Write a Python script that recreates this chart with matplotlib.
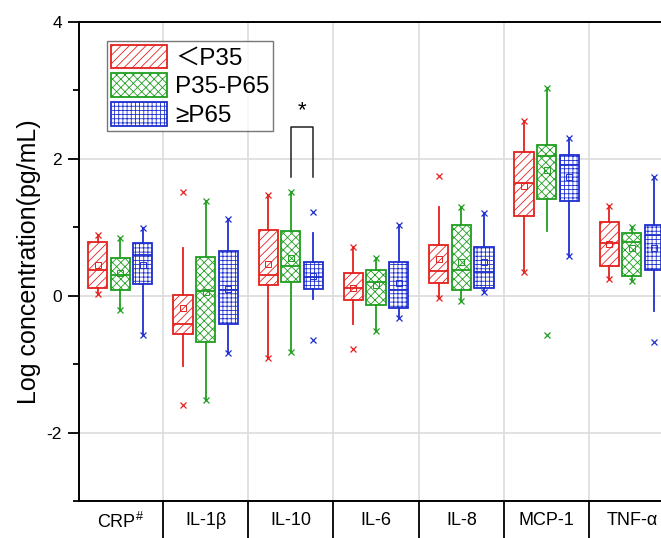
import matplotlib
matplotlib.use("Agg")
import matplotlib.pyplot as plt
from matplotlib.patches import Patch

plt.rcParams['font.family'] = ['Liberation Sans', 'Noto Sans CJK SC', 'DejaVu Sans']
plt.rcParams['mathtext.fontset'] = 'custom'
plt.rcParams['mathtext.rm'] = 'Liberation Sans'
plt.rcParams['mathtext.it'] = 'Liberation Sans'
plt.rcParams['hatch.linewidth'] = 0.6
plt.rcParams['axes.unicode_minus'] = False

categories = ['CRP$^{\\#}$', 'IL-1β', 'IL-10', 'IL-6', 'IL-8', 'MCP-1', 'TNF-α']
groups = ['＜P35', 'P35-P65', '≥P65']

# stats per group: whislo, q1, med, q3, whishi, mean, min, max
red_whislo = [0.03, -1.02, -0.91, -0.41, -0.03, 0.35, 0.25]
red_q1     = [0.12, -0.56, 0.15, -0.06, 0.18, 1.17, 0.43]
red_med    = [0.38, -0.41, 0.30, 0.11, 0.36, 1.64, 0.77]
red_q3     = [0.78, 0.01, 0.96, 0.33, 0.74, 2.10, 1.08]
red_whishi = [0.88, 0.70, 1.47, 0.71, 1.29, 2.56, 1.31]
red_mean   = [0.45, -0.18, 0.47, 0.12, 0.53, 1.60, 0.75]
red_min    = [0.03, -1.60, -0.91, -0.78, -0.03, 0.35, 0.25]
red_max    = [0.88, 1.51, 1.47, 0.71, 1.75, 2.56, 1.31]

green_whislo = [-0.21, -1.53, -0.82, -0.52, -0.07, 0.95, 0.21]
green_q1     = [0.08, -0.68, 0.20, -0.14, 0.09, 1.41, 0.29]
green_med    = [0.31, 0.07, 0.44, 0.20, 0.37, 2.04, 0.79]
green_q3     = [0.55, 0.57, 0.95, 0.38, 1.03, 2.20, 0.91]
green_whishi = [0.85, 1.38, 1.52, 0.55, 1.30, 3.03, 1.01]
green_mean   = [0.33, 0.05, 0.55, 0.15, 0.50, 1.84, 0.70]
green_min    = [-0.21, -1.53, -0.82, -0.52, -0.07, -0.58, 0.21]
green_max    = [0.85, 1.38, 1.52, 0.55, 1.30, 3.03, 1.01]

blue_whislo = [-0.57, -0.84, -0.05, -0.32, 0.06, 0.58, -0.23]
blue_q1     = [0.17, -0.42, 0.10, -0.18, 0.12, 1.38, 0.38]
blue_med    = [0.60, 0.09, 0.27, 0.09, 0.35, 1.91, 0.89]
blue_q3     = [0.77, 0.65, 0.49, 0.49, 0.71, 2.05, 1.03]
blue_whishi = [0.99, 1.12, 0.92, 1.03, 1.21, 2.30, 1.73]
blue_mean   = [0.45, 0.10, 0.29, 0.19, 0.50, 1.74, 0.70]
blue_min    = [-0.57, -0.84, -0.64, -0.32, 0.06, 0.58, -0.68]
blue_max    = [0.99, 1.12, 1.22, 1.03, 1.21, 2.30, 1.73]

sig_pair = (2, 1, 2)   # category index, group a, group b
sig_label = '*'

colors = ['#e3211f', '#1f9e1f', '#1f2fcf']
hatches = ['////', 'xxxx', '++++']
offsets = [-0.265, 0.0, 0.265]
box_w = 0.225

data = [
    (red_whislo, red_q1, red_med, red_q3, red_whishi, red_mean, red_min, red_max),
    (green_whislo, green_q1, green_med, green_q3, green_whishi, green_mean, green_min, green_max),
    (blue_whislo, blue_q1, blue_med, blue_q3, blue_whishi, blue_mean, blue_min, blue_max),
]

W, H = 661, 538
fig = plt.figure(figsize=(W / 100, H / 100), dpi=100)
x_left, x_right = -0.49, 6.5
px_per_unit = 85.26
ax_w = (x_right - x_left) * px_per_unit / W
ax = fig.add_axes([78.5 / W, 37 / H, ax_w, 479 / H])

for g, (wlo, q1, med, q3, whi, mean, mn, mx) in enumerate(data):
    stats = []
    for i in range(len(categories)):
        fl = [mn[i], mx[i]]
        stats.append(dict(whislo=wlo[i], q1=q1[i], med=med[i], q3=q3[i],
                          whishi=whi[i], mean=mean[i], fliers=fl))
    pos = [i + offsets[g] for i in range(len(categories))]
    c = colors[g]
    ax.bxp(stats, positions=pos, widths=box_w, patch_artist=True,
           showmeans=True, showcaps=False, showfliers=True,
           boxprops=dict(facecolor='white', edgecolor=c, linewidth=1.3, hatch=hatches[g]),
           medianprops=dict(color=c, linewidth=1.3),
           whiskerprops=dict(color=c, linewidth=1.3),
           meanprops=dict(marker='s', markerfacecolor='none', markeredgecolor=c,
                          markersize=4, markeredgewidth=0.7),
           flierprops=dict(marker='x', markeredgecolor=c, markersize=5,
                           markeredgewidth=0.9),
           zorder=3)

# significance bracket
ci, ga, gb = sig_pair
xa = ci + offsets[ga]
xb = ci + offsets[gb]
ax.plot([xa, xa, xb, xb], [1.73, 2.46, 2.46, 1.73], color='#222222', lw=1.1, zorder=4)
ax.text((xa + xb) / 2, 2.70, sig_label, ha='center', va='center', fontsize=16)

ax.set_xlim(x_left, x_right)
ax.set_ylim(-3, 4)

# y axis ticks
ax.set_yticks([-2, 0, 2, 4])
ax.set_yticks([-3, -1, 1, 3], minor=True)
ax.tick_params(axis='y', which='major', direction='out', length=8, width=1.3, labelsize=12.5, pad=4)
ax.tick_params(axis='y', which='minor', direction='out', length=4.5, width=1.3)

# x axis: separators as major ticks, labels on minor ticks
ax.set_xticks([i + 0.5 for i in range(len(categories) - 1)])
ax.set_xticklabels([])
ax.set_xticks(list(range(len(categories))), minor=True)
ax.set_xticklabels(categories, minor=True, fontsize=13)
ax.tick_params(axis='x', which='major', direction='out', length=40, width=1.3)
ax.tick_params(axis='x', which='minor', length=0, pad=8)

ax.grid(True, which='major', color='#dcdcdc', linewidth=1.2, zorder=0)
ax.set_axisbelow(True)

for s in ax.spines.values():
    s.set_linewidth(1.4)
    s.set_color('black')

ax.set_ylabel('Log concentration(pg/mL)', fontsize=18, labelpad=4)

handles = [Patch(facecolor='white', edgecolor=colors[g], hatch=hatches[g], linewidth=1.3)
           for g in range(3)]
leg = ax.legend(handles, groups, loc='upper left', bbox_to_anchor=(28.5 / (ax_w * W), 1 - 19 / 479),
                fontsize=17.5, frameon=True, fancybox=False, edgecolor='#555555',
                handlelength=2.3, handleheight=1.1, labelspacing=0.16,
                handletextpad=0.35, borderpad=0.15, borderaxespad=0)
leg.get_frame().set_linewidth(1.0)

fig.savefig('out.png', dpi=100)
